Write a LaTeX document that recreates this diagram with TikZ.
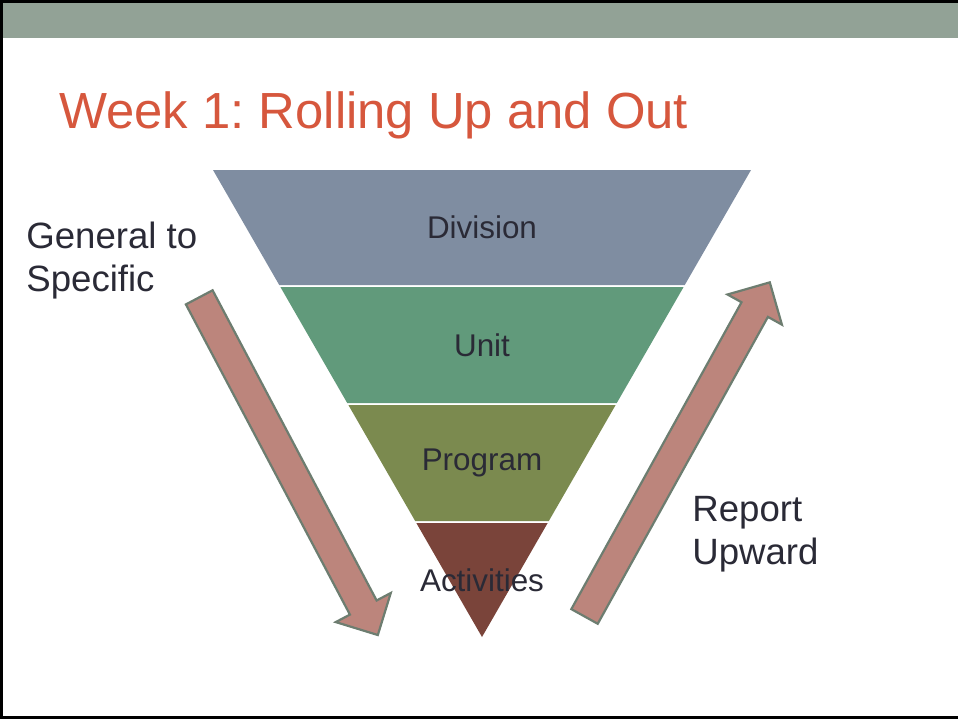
\documentclass[tikz,border=0pt]{standalone}
\usepackage{fontspec}
\setmainfont{Liberation Sans}
\usetikzlibrary{shapes.arrows}
\definecolor{barcol}{RGB}{146,162,150}
\definecolor{titlecol}{RGB}{214,87,61}
\definecolor{inkcol}{RGB}{42,42,54}
\definecolor{divcol}{RGB}{127,141,161}
\definecolor{unitcol}{RGB}{97,154,123}
\definecolor{progcol}{RGB}{123,138,79}
\definecolor{actcol}{RGB}{122,68,58}
\definecolor{arrowfill}{RGB}{188,133,124}
\definecolor{arrowline}{RGB}{109,125,112}
\frenchspacing

\begin{document}
\begin{tikzpicture}[
  x=0.5pt, y=-0.5pt,
  every node/.style={inner sep=0pt,text=inkcol},
  band label/.style={font=\fontsize{15.7}{18}\selectfont},
  side label/.style={font=\fontsize{18.3}{21.5}\selectfont,align=left,anchor=north west},
  flow arrow/.style={single arrow,draw=arrowline,fill=arrowfill,line width=1.1pt,
    inner xsep=0pt,inner ysep=7pt,single arrow head extend=8pt,minimum height=191pt}
]
\useasboundingbox (0,0) rectangle (958,719);
\fill[black] (0,0) rectangle (958,3);
\fill[black] (0,0) rectangle (3,719);
\fill[black] (0,716) rectangle (958,719);
\fill[barcol] (3,3) rectangle (958,38);
\node[anchor=base west,text=titlecol,font=\fontsize{25.4}{30}\selectfont] (title) at (59,128) {Week 1: Rolling Up and Out};
\foreach \ya/\yb/\col/\txt [count=\i] in {170/285/divcol/Division,287/403/unitcol/Unit,405/521/progcol/Program,523/637/actcol/Activities}{
  \fill[\col] ({213+0.576*(\ya-170)},\ya) -- ({751-0.576*(\ya-170)},\ya)
    -- ({751-0.576*(\yb-170)},\yb) -- ({213+0.576*(\yb-170)},\yb) -- cycle;
  \node[band label] (band\i) at (482,{(\ya+\yb)/2}) {\txt};
}
\node[flow arrow,rotate=-62.13] (down) at (285,459.5) {};
\node[flow arrow,rotate=60.99] (up) at (673.5,456) {};
\node[side label] (general) at (26,222) {General to\\Specific};
\node[side label] (report) at (692,496) {Report\\Upward};
\end{tikzpicture}
\end{document}
